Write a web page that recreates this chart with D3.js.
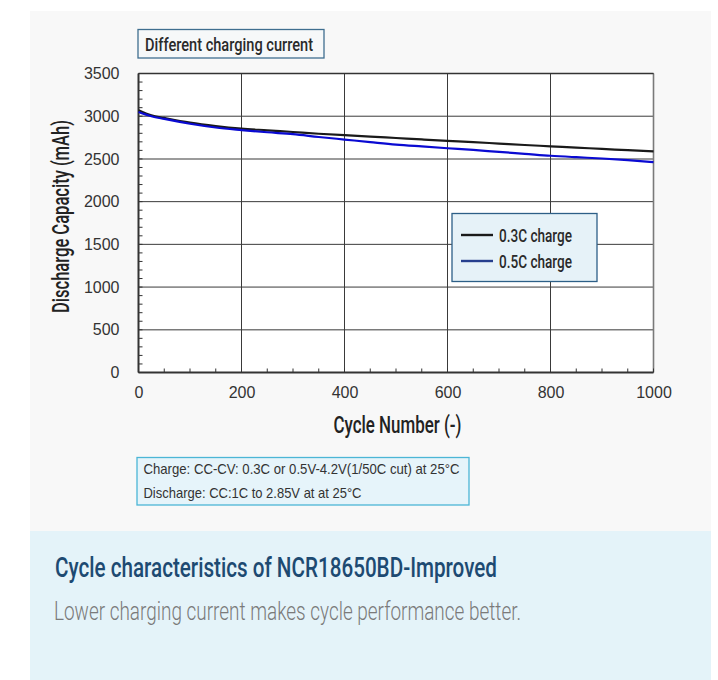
<!DOCTYPE html>
<html>
<head>
<meta charset="utf-8">
<script src="https://cdn.jsdelivr.net/npm/d3@7"></script>
<style>
  html, body { margin: 0; padding: 0; background: #ffffff; }
  svg { display: block; }
</style>
</head>
<body>
<svg id="chart" width="718" height="680"></svg>
<script>
// ---------------- DATA ----------------
const cycles = [0, 25, 50, 100, 150, 200, 250, 300, 350, 400, 450, 500, 550, 600, 650, 700, 750, 800, 850, 900, 950, 1000];
const charge03 = [3070, 3010, 2980, 2925, 2885, 2855, 2835, 2815, 2795, 2778, 2762, 2745, 2728, 2712, 2697, 2680, 2663, 2648, 2632, 2618, 2602, 2588];
const charge05 = [3050, 3000, 2968, 2912, 2868, 2838, 2812, 2790, 2757, 2727, 2697, 2668, 2646, 2625, 2605, 2582, 2560, 2537, 2520, 2505, 2485, 2462];
const seriesNames = ["0.3C charge", "0.5C charge"];
const xTicks = [0, 200, 400, 600, 800, 1000];
const yTicks = [0, 500, 1000, 1500, 2000, 2500, 3000, 3500];
const boxTitle = "Different charging current";
const xLabel = "Cycle Number (-)";
const yLabel = "Discharge Capacity (mAh)";
const noteLines = ["Charge: CC-CV: 0.3C or 0.5V-4.2V(1/50C cut) at 25°C", "Discharge: CC:1C to 2.85V at at 25°C"];
const captionTitle = "Cycle characteristics of NCR18650BD-Improved";
const captionText = "Lower charging current makes cycle performance better.";

// ---------------- DRAW ----------------
const svg = d3.select("#chart");
const medium = "Roboto, 'Noto Sans', sans-serif";
const arial = "'Liberation Sans', Arial, sans-serif";

// panels
svg.append("rect").attr("x", 30).attr("y", 11).attr("width", 681).attr("height", 520).attr("fill", "#f8f8f8");
svg.append("rect").attr("x", 30).attr("y", 531).attr("width", 681).attr("height", 149).attr("fill", "#e4f3f9");

const x = d3.scaleLinear().domain([0, 1000]).range([138.5, 653.5]);
const y = d3.scaleLinear().domain([0, 3500]).range([372.5, 73.5]);

const plot = svg.append("g");
plot.append("rect").attr("x", x(0)).attr("y", y(3500)).attr("width", x(1000) - x(0)).attr("height", y(0) - y(3500)).attr("fill", "#ffffff");

// grid
plot.append("g").selectAll("line").data(yTicks.filter(d => d > 0)).join("line")
  .attr("x1", x(0)).attr("x2", x(1000)).attr("y1", d => y(d)).attr("y2", d => y(d))
  .attr("stroke", d => (d === 2500 || d === 500) ? "#7a7a7a" : "#3a3a3a")
  .attr("stroke-width", d => (d === 2500 || d === 500) ? 1.6 : 1);
plot.append("g").selectAll("line").data(xTicks.filter(d => d > 0)).join("line")
  .attr("x1", d => x(d)).attr("x2", d => x(d)).attr("y1", y(0)).attr("y2", y(3500))
  .attr("stroke", d => d === 1000 ? "#7a7a7a" : "#3a3a3a")
  .attr("stroke-width", d => d === 1000 ? 1.6 : 1);

// minor ticks
plot.append("g").selectAll("line").data(d3.range(0, 3501, 100)).join("line")
  .attr("x1", x(0)).attr("x2", x(0) + 4).attr("y1", d => y(d)).attr("y2", d => y(d))
  .attr("stroke", "#333").attr("stroke-width", 1);
plot.append("g").selectAll("line").data(d3.range(0, 1001, 50)).join("line")
  .attr("x1", d => x(d)).attr("x2", d => x(d)).attr("y1", y(0)).attr("y2", y(0) - 4)
  .attr("stroke", "#333").attr("stroke-width", 1);

// axes lines
plot.append("line").attr("x1", x(0)).attr("x2", x(0)).attr("y1", y(0)).attr("y2", y(3500)).attr("stroke", "#333").attr("stroke-width", 2);
plot.append("line").attr("x1", x(0)).attr("x2", x(1000)).attr("y1", y(0)).attr("y2", y(0)).attr("stroke", "#333").attr("stroke-width", 2);
plot.append("line").attr("x1", x(0)).attr("x2", x(1000)).attr("y1", y(3500)).attr("y2", y(3500)).attr("stroke", "#333").attr("stroke-width", 1.5);

// axis tick labels via d3 axes
const yAxis = d3.axisLeft(y).tickValues(yTicks).tickSize(0).tickPadding(19).tickFormat(d3.format("d"));
const gy = svg.append("g").attr("transform", `translate(${x(0)},0)`).call(yAxis);
gy.select(".domain").remove();
gy.selectAll("text").attr("font-family", arial).attr("font-size", 16).attr("fill", "#333");

const xAxis = d3.axisBottom(x).tickValues(xTicks).tickSize(0).tickPadding(14).tickFormat(d3.format("d"));
const gx = svg.append("g").attr("transform", `translate(0,${y(0)})`).call(xAxis);
gx.select(".domain").remove();
gx.selectAll("text").attr("font-family", arial).attr("font-size", 16).attr("fill", "#333");

// lines
const line = d3.line().x(d => x(d[0])).y(d => y(d[1])).curve(d3.curveMonotoneX);
plot.append("path").datum(cycles.map((c, i) => [c, charge03[i]]))
  .attr("d", line).attr("fill", "none").attr("stroke", "#1a1a1a").attr("stroke-width", 2.2);
plot.append("path").datum(cycles.map((c, i) => [c, charge05[i]]))
  .attr("d", line).attr("fill", "none").attr("stroke", "#0a0ad2").attr("stroke-width", 2.2);

// title box
svg.append("rect").attr("x", 138).attr("y", 29.5).attr("width", 186).attr("height", 28.5)
  .attr("fill", "#f6f8f9").attr("stroke", "#3f6e8f").attr("stroke-width", 1.3);
svg.append("text").attr("x", 145).attr("y", 51).text(boxTitle)
  .attr("font-family", medium).attr("font-size", 19).attr("font-weight", 500).attr("fill", "#2a2a2a")
  .attr("textLength", 168).attr("lengthAdjust", "spacingAndGlyphs");

// legend
const lg = svg.append("g");
lg.append("rect").attr("x", 452).attr("y", 213.5).attr("width", 145).attr("height", 68)
  .attr("fill", "#e6f2f8").attr("stroke", "#2d5f87").attr("stroke-width", 1.3);
const legColors = ["#1a1a1a", "#263f8e"];
seriesNames.forEach((name, i) => {
  const cy = 235 + i * 26;
  lg.append("line").attr("x1", 461).attr("x2", 493).attr("y1", cy).attr("y2", cy)
    .attr("stroke", legColors[i]).attr("stroke-width", 2.4);
  lg.append("text").attr("x", 499).attr("y", cy + 6.5).text(name)
    .attr("font-family", medium).attr("font-size", 19).attr("font-weight", 500).attr("fill", "#2a2a2a")
    .attr("textLength", 73).attr("lengthAdjust", "spacingAndGlyphs");
});

// axis titles
svg.append("text").attr("x", 397.5).attr("y", 433).attr("text-anchor", "middle").text(xLabel)
  .attr("font-family", medium).attr("font-size", 23).attr("font-weight", 500).attr("fill", "#222")
  .attr("textLength", 128).attr("lengthAdjust", "spacingAndGlyphs");
svg.append("text").attr("transform", "translate(69,216.5) rotate(-90)").attr("text-anchor", "middle").text(yLabel)
  .attr("font-family", medium).attr("font-size", 23).attr("font-weight", 500).attr("fill", "#222")
  .attr("textLength", 193).attr("lengthAdjust", "spacingAndGlyphs");

// note box
svg.append("rect").attr("x", 137).attr("y", 457.5).attr("width", 332).attr("height", 47.5)
  .attr("fill", "#e6f4fa").attr("stroke", "#4cb6d6").attr("stroke-width", 1.3);
const noteW = [316, 218];
noteLines.forEach((t, i) => {
  svg.append("text").attr("x", 143.5).attr("y", 474 + i * 23.5).text(t)
    .attr("font-family", arial).attr("font-size", 14.5).attr("fill", "#333")
    .attr("textLength", noteW[i]).attr("lengthAdjust", "spacingAndGlyphs");
});

// caption
svg.append("text").attr("x", 55).attr("y", 577).text(captionTitle)
  .attr("font-family", medium).attr("font-size", 27).attr("font-weight", 500).attr("fill", "#1d4a72")
  .attr("textLength", 442).attr("lengthAdjust", "spacingAndGlyphs");
svg.append("text").attr("x", 54).attr("y", 620).text(captionText)
  .attr("font-family", "Roboto, 'Open Sans', sans-serif").attr("font-size", 26).attr("font-weight", 300).attr("fill", "#7a7a7a")
  .attr("textLength", 467).attr("lengthAdjust", "spacingAndGlyphs");
</script>
</body>
</html>
